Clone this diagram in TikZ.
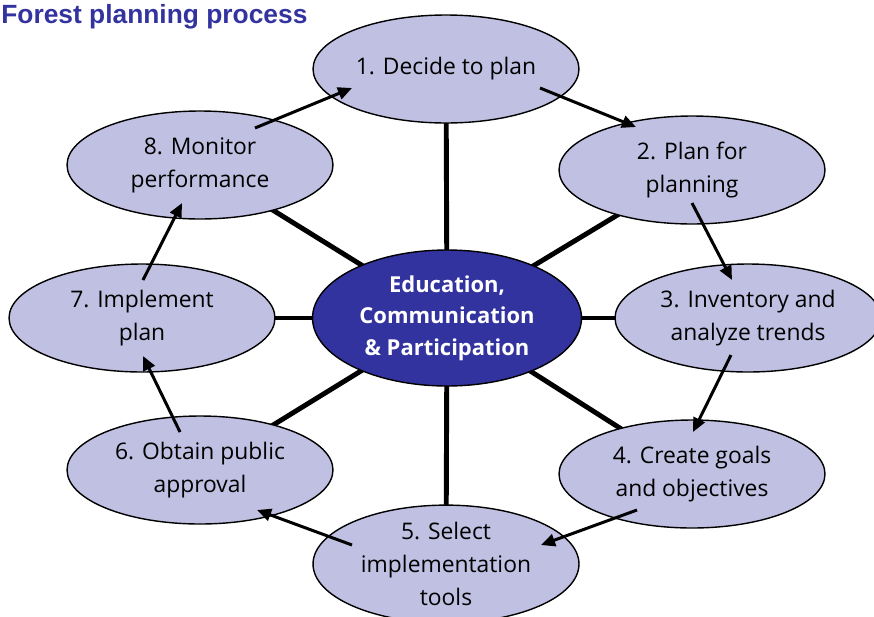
\documentclass[tikz,border=0pt]{standalone}
\usepackage{fontspec}
\setmainfont{Open Sans}
\newfontfamily\titlefont{Liberation Sans}
\usetikzlibrary{shapes.geometric,arrows.meta,backgrounds}
\definecolor{lavender}{RGB}{192,192,226}
\definecolor{hubblue}{RGB}{51,51,160}
\definecolor{titleblue}{RGB}{51,51,160}
\begin{document}
\begin{tikzpicture}[x=0.02cm,y=-0.02cm,
  stage/.style={ellipse,draw=black,line width=0.8pt,fill=lavender,inner sep=0pt,
    minimum width=5.32cm,minimum height=2.16cm,align=center,
    font=\fontsize{13}{18.7}\selectfont},
  hub/.style={ellipse,draw=black,line width=0.8pt,fill=hubblue,inner sep=0pt,
    minimum width=5.38cm,minimum height=2.72cm,align=center,text=white,
    font=\bfseries\fontsize{12.5}{17.9}\selectfont},
  spoke/.style={line width=2.8pt},
  flow/.style={line width=1.7pt,-{Triangle[length=8pt,width=7pt]}}]

\useasboundingbox (0,0) rectangle (874,616);

\coordinate (a1) at (540, 88);
\coordinate (b1) at (636, 127);
\coordinate (a2) at (692, 203);
\coordinate (b2) at (732, 280);
\coordinate (a3) at (731, 355);
\coordinate (b3) at (693, 432);
\coordinate (a4) at (637, 510);
\coordinate (b4) at (541, 545);
\coordinate (a5) at (352, 545);
\coordinate (b5) at (257, 510);
\coordinate (a6) at (180, 432);
\coordinate (b6) at (143, 356);
\coordinate (a7) at (143, 280);
\coordinate (b7) at (182, 203);
\coordinate (a8) at (255, 128);
\coordinate (b8) at (352, 88);


\node [anchor=north west,inner sep=0pt,text=titleblue,font=\titlefont\bfseries\fontsize{15}{18}\selectfont] (title) at (1,4) {Forest planning process};

\node [hub] (hub) at (447, 318) {Education,\\Communication\\\& Participation};

\node [stage] (p1) at (446, 69) {1. Decide to plan};
\node [stage] (p2) at (692, 170) {2. Plan for\\planning};
\node [stage] (p3) at (748, 318) {3. Inventory and\\analyze trends};
\node [stage] (p4) at (692, 474) {4. Create goals\\and objectives};
\node [stage] (p5) at (446, 564) {5. Select\\implementation\\tools};
\node [stage] (p6) at (200, 470) {6. Obtain public\\approval};
\node [stage] (p7) at (142, 318) {7. Implement\\plan};
\node [stage] (p8) at (200, 165) {8. Monitor\\performance};

% spokes behind the ellipses
\begin{pgfonlayer}{background}
\foreach \p in {p1,p2,p3,p4,p5,p6,p7,p8}
  \draw [spoke] (hub.center) -- (\p.center);
\end{pgfonlayer}


\draw [flow] (a1) -- (b1);
\draw [flow] (a2) -- (b2);
\draw [flow] (a3) -- (b3);
\draw [flow] (a4) -- (b4);
\draw [flow] (a5) -- (b5);
\draw [flow] (a6) -- (b6);
\draw [flow] (a7) -- (b7);
\draw [flow] (a8) -- (b8);

\end{tikzpicture}
\end{document}
